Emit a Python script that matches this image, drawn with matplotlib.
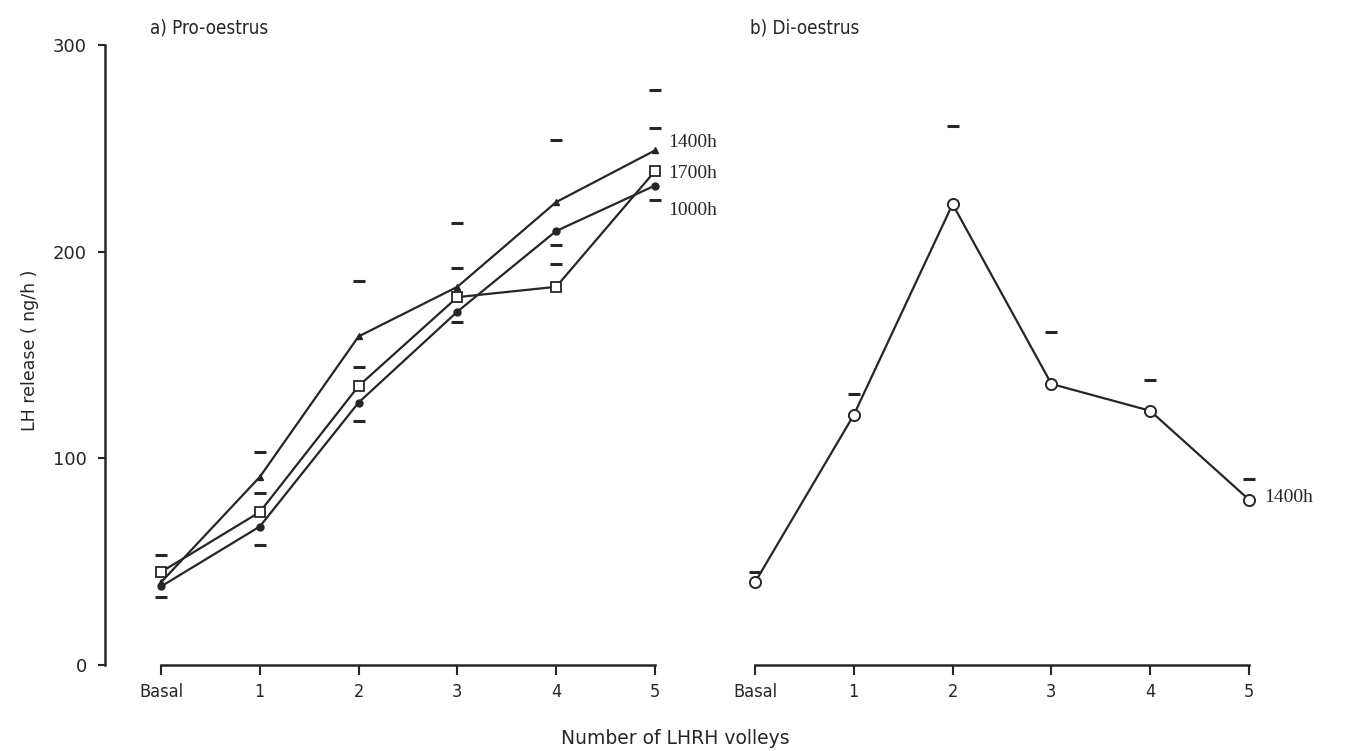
import numpy as np
import matplotlib
matplotlib.use("Agg")
import matplotlib.pyplot as plt

# ---- data ----
categories = ['Basal', '1', '2', '3', '4', '5']
pro_1400 = [40, 91, 159, 183, 224, 249]
pro_1700 = [45, 74, 135, 178, 183, 239]
pro_1000 = [38, 67, 127, 171, 210, 232]
cap_1400 = [33, 103, 186, 214, 254, 260]
cap_1700 = [53, 83, 144, 192, 194, 278]
cap_1000 = [np.nan, 58, 118, 166, 203, 225]
di_1400 = [40, 121, 223, 136, 123, 80]
cap_di = [45, 131, 261, 161, 138, 90]
y_ticks = [0, 100, 200, 300]

W, H = 1347, 751
fig = plt.figure(figsize=(W / 100, H / 100), dpi=100)
fig.patch.set_facecolor('white')
ink = '#262626'
plt.rcParams['font.family'] = ['DejaVu Sans']

def px_axes(x0, x1, y_top, y_bot):
    return fig.add_axes([x0 / W, 1 - y_bot / H, (x1 - x0) / W, (y_bot - y_top) / H])

# pixel geometry
y0_px, y300_px = 665, 45
unit = 98.8

def make_panel(x_axis_left, basal_px, right_px, show_y):
    ax = px_axes(x_axis_left, right_px, y300_px, y0_px)
    xmin = -(basal_px - x_axis_left) / unit
    xmax = (right_px - basal_px) / unit
    ax.set_xlim(xmin, xmax)
    ax.set_ylim(0, 300)
    ax.patch.set_alpha(0)
    for s in ['top', 'right']:
        ax.spines[s].set_visible(False)
    ax.spines['bottom'].set_bounds(0, 5)
    ax.spines['bottom'].set_color(ink)
    ax.spines['bottom'].set_linewidth(1.8)
    ax.set_xticks(range(len(categories)))
    ax.set_xticklabels(categories, fontsize=13, color=ink, stretch='condensed')
    ax.tick_params(axis='x', direction='out', length=7, width=1.5, color=ink, pad=6)
    if show_y:
        ax.spines['left'].set_color(ink)
        ax.spines['left'].set_linewidth(1.8)
        ax.set_yticks(y_ticks)
        ax.set_yticklabels([str(v) for v in y_ticks], fontsize=13, color=ink)
        ax.tick_params(axis='y', direction='out', length=5, width=1.5, color=ink, pad=8)
    else:
        ax.spines['left'].set_visible(False)
        ax.set_yticks([])
    return ax

axL = make_panel(105, 161, 760, True)
axR = make_panel(705, 755, 1340, False)

x = np.arange(len(categories))
lw = 1.6
axL.plot(x, pro_1400, '-', color=ink, lw=lw, marker='^', ms=4.5, mfc=ink, mec=ink, zorder=3)
axL.plot(x, pro_1700, '-', color=ink, lw=lw, marker='s', ms=7, mfc='white', mec=ink, mew=1.3, zorder=4)
axL.plot(x, pro_1000, '-', color=ink, lw=lw, marker='o', ms=5, mfc=ink, mec=ink, zorder=3)
for caps in (cap_1400, cap_1700, cap_1000):
    axL.plot(x, caps, linestyle='none', marker='_', ms=9, mew=2.2, color=ink, zorder=2)

axR.plot(x, di_1400, '-', color=ink, lw=lw, marker='o', ms=8, mfc='white', mec=ink, mew=1.4, zorder=3)
axR.plot(x, cap_di, linestyle='none', marker='_', ms=9, mew=2.2, color=ink, zorder=2)

# series labels
lab_kw = dict(fontsize=14, color=ink, va='center', family='Liberation Serif')
axL.text(5.13, 253, '1400h', **lab_kw)
axL.text(5.13, 238, '1700h', **lab_kw)
axL.text(5.13, 220, '1000h', **lab_kw)
axR.text(5.15, di_1400[-1] + 1, '1400h', **lab_kw)

# titles
fig.text(150 / W, 1 - 28 / H, 'a) Pro-oestrus', fontsize=13.5, color=ink, va='center', stretch='condensed')
fig.text(750 / W, 1 - 28 / H, 'b) Di-oestrus', fontsize=13.5, color=ink, va='center', stretch='condensed')

fig.text(30 / W, 1 - 350 / H, 'LH release ( ng/h )', fontsize=12.5, color=ink, rotation=90,
         va='center', ha='center')
fig.text(675 / W, 1 - 738 / H, 'Number of LHRH volleys', fontsize=13.5, color=ink,
         va='center', ha='center')

fig.savefig('out.png', dpi=100, facecolor='white')
